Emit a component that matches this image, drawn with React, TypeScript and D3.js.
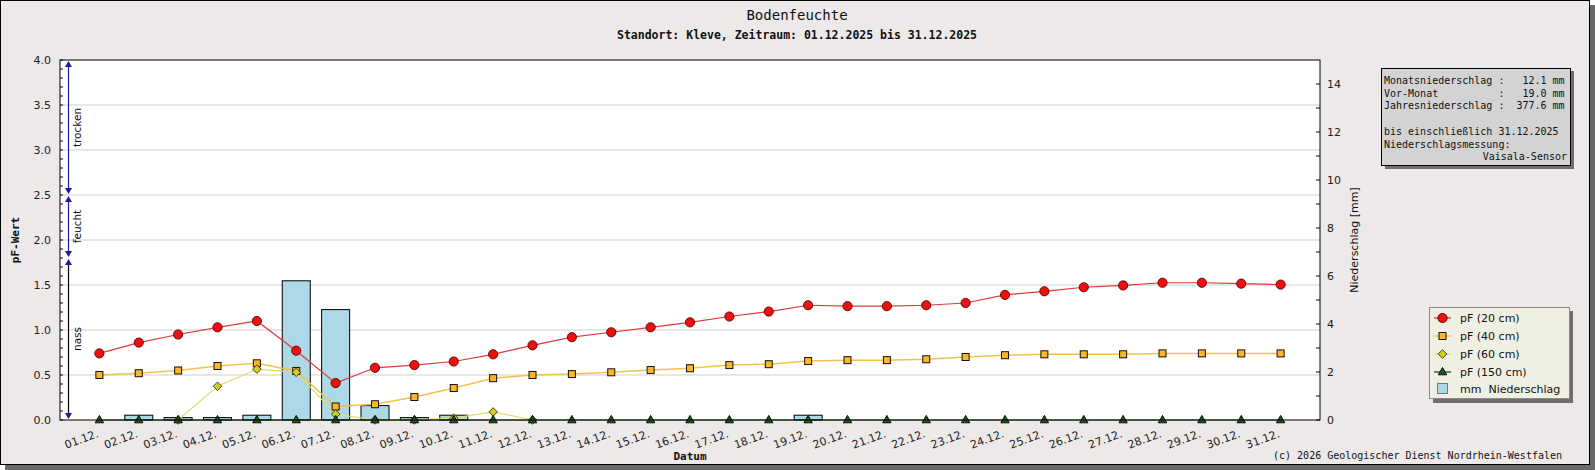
import * as d3 from 'd3';

const W = 1595;
const H = 470;

const dayLabels = [
  '01.12.', '02.12.', '03.12.', '04.12.', '05.12.', '06.12.', '07.12.', '08.12.',
  '09.12.', '10.12.', '11.12.', '12.12.', '13.12.', '14.12.', '15.12.', '16.12.',
  '17.12.', '18.12.', '19.12.', '20.12.', '21.12.', '22.12.', '23.12.', '24.12.',
  '25.12.', '26.12.', '27.12.', '28.12.', '29.12.', '30.12.', '31.12.',
];

const pf20 = [0.74, 0.86, 0.95, 1.03, 1.1, 0.77, 0.41, 0.58, 0.61, 0.65, 0.73, 0.83, 0.92, 0.975, 1.03, 1.085,
  1.15, 1.205, 1.275, 1.265, 1.265, 1.275, 1.3, 1.39, 1.43, 1.475, 1.495, 1.525, 1.525, 1.515, 1.505];
const pf40 = [0.5, 0.52, 0.55, 0.6, 0.63, 0.545, 0.15, 0.175, 0.255, 0.355, 0.465, 0.5, 0.51, 0.53, 0.555, 0.575,
  0.61, 0.62, 0.655, 0.665, 0.665, 0.675, 0.7, 0.72, 0.73, 0.73, 0.73, 0.74, 0.74, 0.74, 0.74];
const pf60: (number | null)[] = [null, null, 0, 0.375, 0.565, 0.53, 0.065, 0, 0, 0.02, 0.09, 0,
  null, null, null, null, null, null, null, null, null, null, null, null, null, null, null, null, null, null, null];
const pf150 = [0, 0, 0, 0, 0, 0, 0, 0, 0, 0, 0, 0, 0, 0, 0, 0, 0, 0, 0, 0, 0, 0, 0, 0, 0, 0, 0, 0, 0, 0, 0];
const rain = [0, 0.2, 0.1, 0.1, 0.2, 5.8, 4.6, 0.6, 0.1, 0.2, 0, 0, 0, 0, 0, 0, 0, 0, 0.2, 0, 0, 0, 0, 0, 0, 0, 0, 0, 0, 0, 0];

const pfTicks = [0, 0.5, 1, 1.5, 2, 2.5, 3, 3.5, 4];
const rainTicks = [0, 2, 4, 6, 8, 10, 12, 14];

const zones = [
  { from: 2.5, to: 4.0, label: 'trocken', line: '#1c1c9c' },
  { from: 1.8, to: 2.5, label: 'feucht', line: '#1c1c9c' },
  { from: 0, to: 1.8, label: 'nass', line: '#000000' },
];

const infoLines = [
  'Monatsniederschlag :   12.1 mm',
  'Vor-Monat          :   19.0 mm',
  'Jahresniederschlag :  377.6 mm',
  '',
  'bis einschließlich 31.12.2025',
  'Niederschlagsmessung:',
];
const infoLast = 'Vaisala-Sensor';

const plot = { left: 60, right: 1320, top: 60, bottom: 420 };
const sans = 'DejaVu Sans, sans-serif';
const mono = 'DejaVu Sans Mono, monospace';

type Marker = 'circle' | 'square' | 'diamond' | 'triangle';

const markerShape = (kind: Marker, cx: number, cy: number, fill: string, stroke: string, key?: string | number) => {
  if (kind === 'circle') return <circle key={key} cx={cx} cy={cy} r={4.6} fill={fill} stroke={stroke} strokeWidth={0.9} />;
  if (kind === 'square') return <rect key={key} x={cx - 3.5} y={cy - 3.5} width={7} height={7} fill={fill} stroke={stroke} strokeWidth={1} />;
  if (kind === 'diamond') return <path key={key} d={`M${cx},${cy - 4.3}L${cx + 4.3},${cy}L${cx},${cy + 4.3}L${cx - 4.3},${cy}Z`} fill={fill} stroke={stroke} strokeWidth={0.9} />;
  return <path key={key} d={`M${cx},${cy - 4.6}L${cx + 4.2},${cy + 2.8}L${cx - 4.2},${cy + 2.8}Z`} fill={fill} stroke={stroke} strokeWidth={0.9} />;
};

const series = [
  { name: 'pF (20 cm)', values: pf20 as (number | null)[], line: '#de3a3a', width: 1.2, marker: 'circle' as Marker, fill: '#ee1010', stroke: '#5a0000' },
  { name: 'pF (40 cm)', values: pf40 as (number | null)[], line: '#f2c24c', width: 1.5, marker: 'square' as Marker, fill: '#fbb726', stroke: '#111' },
  { name: 'pF (60 cm)', values: pf60, line: '#e3dc6a', width: 1.2, marker: 'diamond' as Marker, fill: '#d2cd1e', stroke: '#333' },
  { name: 'pF (150 cm)', values: pf150 as (number | null)[], line: '#1f5f1f', width: 1, marker: 'triangle' as Marker, fill: '#1d5a1d', stroke: '#000' },
];

export default function App() {
  const x = d3.scaleLinear().domain([0, 32]).range([plot.left, plot.right]);
  const yL = d3.scaleLinear().domain([0, 4]).range([plot.bottom, plot.top]);
  const yR = d3.scaleLinear().domain([0, 15]).range([plot.bottom, plot.top]);
  const barW = 28;

  const minorL = d3.range(0, 4.001, 0.1);
  const minorR = d3.range(1, 15, 2);

  const lineGen = d3.line<number | null>()
    .defined(d => d !== null)
    .x((_, i) => x(i + 1))
    .y(d => yL(d as number));

  const zoneX = 68.5;
  const arrowUp = (tipY: number, color: string) => (
    <path d={`M${zoneX},${tipY}L${zoneX + 3.5},${tipY + 6}L${zoneX - 3.5},${tipY + 6}Z`} fill={color} />
  );
  const arrowDown = (tipY: number, color: string) => (
    <path d={`M${zoneX},${tipY}L${zoneX + 3.5},${tipY - 6}L${zoneX - 3.5},${tipY - 6}Z`} fill={color} />
  );

  const legendX = 1429;
  const legendY = 307;

  return (
    <div>
      <style>{'body{margin:0}'}</style>
      <svg width={W} height={H} style={{ display: 'block' }}>
        {/* frame + shadow */}
        <rect x={5} y={5} width={W - 5} height={H - 5} fill="#6a6a6a" />
        <rect x={0.5} y={0.5} width={1589} height={464} fill="#ece9e8" stroke="#000" />

        <text x={797} y={20} textAnchor="middle" fontFamily={mono} fontSize={14} fill="#111">Bodenfeuchte</text>
        <text x={797} y={39} textAnchor="middle" fontFamily={mono} fontSize={11.5} fontWeight="bold" fill="#111">
          Standort: Kleve, Zeitraum: 01.12.2025 bis 31.12.2025
        </text>

        {/* plot area */}
        <rect x={plot.left} y={plot.top} width={plot.right - plot.left} height={plot.bottom - plot.top} fill="#fff" />
        {pfTicks.slice(1, -1).map(t => (
          <line key={t} x1={plot.left} x2={plot.right} y1={yL(t)} y2={yL(t)} stroke="#cfcfcf" strokeWidth={1} />
        ))}

        {/* rain bars */}
        {rain.map((v, i) => v > 0 ? (
          <rect key={i} x={x(i + 1) - barW / 2} y={yR(v)} width={barW} height={yR(0) - yR(v)}
            fill="#add8e6" stroke="#000" strokeWidth={1} />
        ) : null)}

        {/* lines */}
        {series.map(s => (
          <path key={s.name} d={lineGen(s.values) || ''} fill="none" stroke={s.line} strokeWidth={s.width} />
        ))}
        {series.map(s => (
          <g key={s.name + 'm'}>
            {s.values.map((v, i) => v === null ? null : markerShape(s.marker, x(i + 1), yL(v), s.fill, s.stroke, i))}
          </g>
        ))}

        {/* zone indicators */}
        {zones.map(z => {
          const yTop = yL(z.to);
          const yBot = yL(z.from);
          return (
            <g key={z.label}>
              <line x1={zoneX} x2={zoneX} y1={yTop + 3} y2={yBot - 3} stroke={z.line} strokeWidth={1.2} />
              {arrowUp(yTop + 1, '#1c1c9c')}
              {arrowDown(yBot - 1, '#1c1c9c')}
              <text transform={`translate(${zoneX + 12},${(yTop + yBot) / 2}) rotate(-90)`} textAnchor="middle"
                fontFamily={sans} fontSize={10.5} fill="#111">{z.label}</text>
            </g>
          );
        })}

        {/* axes */}
        <rect x={plot.left} y={plot.top} width={plot.right - plot.left} height={plot.bottom - plot.top}
          fill="none" stroke="#000" strokeWidth={1} />
        {minorL.map(t => (
          <line key={t} x1={plot.left} x2={plot.left + 3} y1={yL(t)} y2={yL(t)} stroke="#000" />
        ))}
        {pfTicks.map(t => (
          <text key={t} x={51} y={yL(t)} dy="0.35em" textAnchor="end" fontFamily={sans} fontSize={11} fill="#222">
            {d3.format('.1f')(t)}
          </text>
        ))}
        {rainTicks.map(t => (
          <g key={t}>
            <line x1={plot.right - 4} x2={plot.right} y1={yR(t)} y2={yR(t)} stroke="#000" />
            <text x={1327} y={yR(t)} dy="0.35em" fontFamily={sans} fontSize={11} fill="#222">{t}</text>
          </g>
        ))}
        {minorR.map(t => (
          <line key={t} x1={plot.right - 4} x2={plot.right} y1={yR(t)} y2={yR(t)} stroke="#000" />
        ))}
        {dayLabels.map((d, i) => (
          <text key={d} transform={`translate(${x(i + 1) - 3},${429}) rotate(-20)`} dy="0.75em" textAnchor="end"
            fontFamily={sans} fontSize={11} fill="#222">{d}</text>
        ))}

        <text transform={`translate(19,240) rotate(-90)`} textAnchor="middle" fontFamily={mono} fontSize={11}
          fontWeight="bold" fill="#111">pF-Wert</text>
        <text transform={`translate(1358,240) rotate(-90)`} textAnchor="middle" fontFamily={sans} fontSize={11}
          fill="#111">Niederschlag [mm]</text>
        <text x={690} y={460} textAnchor="middle" fontFamily={mono} fontSize={11} fontWeight="bold" fill="#111">Datum</text>
        <text x={1562} y={459} textAnchor="end" fontFamily={mono} fontSize={10} fill="#111">
          (c) 2026 Geologischer Dienst Nordrhein-Westfalen
        </text>

        {/* info box */}
        <rect x={1385} y={71} width={189} height={98} fill="#6e6e6e" />
        <rect x={1381.5} y={68.5} width={189} height={97} fill="#d3d3d3" stroke="#000" />
        {infoLines.map((l, i) => (
          <text key={i} x={1384} y={84 + i * 12.7} fontFamily={mono} fontSize={10} fill="#111"
            style={{ whiteSpace: 'pre' }}>{l}</text>
        ))}
        <text x={1567} y={84 + 6 * 12.7} textAnchor="end" fontFamily={mono} fontSize={10} fill="#111">{infoLast}</text>

        {/* legend */}
        <rect x={legendX + 4} y={legendY + 4} width={140} height={92} fill="#6e6e6e" />
        <rect x={legendX + 0.5} y={legendY + 0.5} width={140} height={91} fill="#efefe3" stroke="#8a8a8a" />
        {series.map((s, i) => {
          const cy = legendY + 11 + i * 18;
          return (
            <g key={s.name}>
              <line x1={legendX + 5} x2={legendX + 22} y1={cy} y2={cy} stroke={s.line === '#1f5f1f' ? '#1d5a1d' : s.line} strokeWidth={1.3} />
              {markerShape(s.marker, legendX + 13.5, cy, s.fill, s.stroke)}
              <text x={legendX + 31} y={cy} dy="0.35em" fontFamily={sans} fontSize={11} fill="#111">{s.name}</text>
            </g>
          );
        })}
        <rect x={legendX + 8.5} y={legendY + 76.5} width={10} height={10} fill="#add8e6" stroke="#777" />
        <text x={legendX + 31} y={legendY + 82} dy="0.35em" fontFamily={sans} fontSize={11} fill="#111"
          style={{ whiteSpace: 'pre' }}>mm  Niederschlag</text>
      </svg>
    </div>
  );
}
